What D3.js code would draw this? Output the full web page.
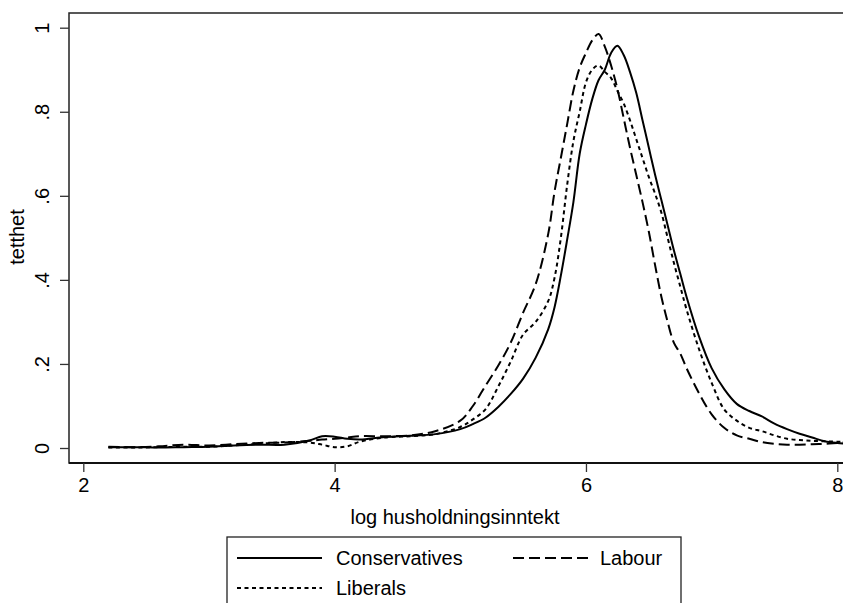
<!DOCTYPE html>
<html>
<head>
<meta charset="utf-8">
<script src="https://cdn.jsdelivr.net/npm/d3@7"></script>
<style>
  body { margin: 0; background: #fff; }
  svg { display: block; }
  text { font-family: "Liberation Sans", Arial, sans-serif; fill: #000; }
</style>
</head>
<body>
<svg id="chart"></svg>
<script>
const width = 843;
const height = 603;

// log household income grid
const xs = [2.2, 2.4, 2.6, 2.8, 3.0, 3.2, 3.4, 3.6, 3.8, 3.9, 4.0, 4.1, 4.2, 4.4, 4.6, 4.8, 5.0, 5.1, 5.2, 5.3, 5.4, 5.5, 5.6, 5.7, 5.75, 5.8, 5.85, 5.9, 5.95, 6.0, 6.05, 6.1, 6.15, 6.2, 6.25, 6.3, 6.35, 6.4, 6.45, 6.5, 6.55, 6.6, 6.65, 6.7, 6.75, 6.8, 6.9, 7.0, 7.1, 7.2, 7.3, 7.4, 7.5, 7.6, 7.7, 7.8, 7.9, 8.0, 8.1];

const conservatives = [.002, .002, .001, .002, .003, .006, .008, .008, .018, .028, .027, .022, .020, .026, .029, .033, .045, .057, .072, .097, .128, .165, .215, .283, .335, .41, .495, .585, .70, .77, .83, .875, .90, .94, .957, .935, .895, .845, .78, .715, .65, .59, .53, .47, .415, .36, .265, .19, .14, .105, .088, .075, .058, .045, .034, .025, .016, .012, .010];

const labour = [.003, .002, .004, .008, .006, .009, .012, .013, .017, .020, .022, .025, .028, .028, .030, .040, .065, .10, .148, .195, .25, .322, .39, .51, .61, .69, .77, .85, .905, .94, .97, .985, .955, .91, .855, .785, .715, .65, .585, .515, .435, .36, .30, .25, .225, .19, .13, .08, .048, .03, .022, .014, .010, .008, .008, .009, .010, .012, .014];

const liberals = [.001, .001, .002, .003, .003, .006, .010, .014, .013, .008, .002, .004, .015, .025, .028, .033, .050, .068, .092, .145, .205, .27, .30, .35, .405, .50, .625, .73, .80, .87, .90, .91, .895, .88, .85, .82, .78, .735, .69, .645, .605, .56, .50, .44, .385, .33, .235, .155, .092, .065, .048, .04, .03, .022, .019, .017, .016, .015, .014];

const xTicks = [2, 4, 6, 8];
const yTicks = [0, .2, .4, .6, .8, 1];
const yTickLabels = ["0", ".2", ".4", ".6", ".8", "1"];

const seriesNames = ["Conservatives", "Labour", "Liberals"];
const seriesValues = [conservatives, labour, liberals];
const dashes = [null, "11,5", "4,3.5"];

const svg = d3.select("#chart")
  .attr("width", width)
  .attr("height", height);

const plot = { left: 69, top: 13, right: 852, bottom: 463 };

const x = d3.scaleLinear().domain([2, 8]).range([83.3, 837.3]);
const y = d3.scaleLinear().domain([0, 1]).range([448, 27.7]);

// plot region frame
svg.append("rect")
  .attr("x", plot.left)
  .attr("y", plot.top)
  .attr("width", plot.right - plot.left)
  .attr("height", plot.bottom - plot.top)
  .attr("fill", "none")
  .attr("stroke", "#222")
  .attr("stroke-width", 1.5);

// y axis
const yAxis = svg.append("g")
  .attr("transform", `translate(${plot.left},0)`)
  .call(d3.axisLeft(y).tickValues(yTicks).tickSize(9).tickFormat((d, i) => yTickLabels[i]));
yAxis.select(".domain").remove();
yAxis.selectAll(".tick line").attr("stroke", "#333").attr("stroke-width", 1.3);
yAxis.selectAll(".tick text")
  .attr("font-size", 20)
  .attr("font-family", "'Liberation Sans', Arial, sans-serif")
  .attr("x", 0)
  .attr("y", 0)
  .attr("dy", 0)
  .attr("text-anchor", "middle")
  .attr("dominant-baseline", "central")
  .attr("transform", "translate(-27,0) rotate(-90)");

// x axis
const xAxis = svg.append("g")
  .attr("transform", `translate(0,${plot.bottom})`)
  .call(d3.axisBottom(x).tickValues(xTicks).tickSize(9).tickPadding(6).tickFormat(d3.format("d")));
xAxis.select(".domain")
  .attr("d", `M${plot.left},0H${plot.right}`)
  .attr("stroke", "#111")
  .attr("stroke-width", 2);
xAxis.selectAll(".tick line").attr("stroke", "#333").attr("stroke-width", 1.3);
xAxis.selectAll(".tick text")
  .attr("font-size", 20)
  .attr("font-family", "'Liberation Sans', Arial, sans-serif");

// axis titles
svg.append("text")
  .attr("transform", "translate(24,237) rotate(-90)")
  .attr("text-anchor", "middle")
  .attr("font-size", 20)
  .text("tetthet");

svg.append("text")
  .attr("x", 455)
  .attr("y", 524)
  .attr("text-anchor", "middle")
  .attr("font-size", 20)
  .text("log husholdningsinntekt");

// density curves
const line = d3.line()
  .x(d => x(d[0]))
  .y(d => y(d[1]))
  .curve(d3.curveCatmullRom.alpha(0.5));

seriesValues.forEach((vals, i) => {
  svg.append("path")
    .datum(xs.map((v, j) => [v, vals[j]]))
    .attr("fill", "none")
    .attr("stroke", "#000")
    .attr("stroke-width", 2)
    .attr("stroke-dasharray", dashes[i])
    .attr("stroke-linejoin", "round")
    .attr("d", line);
});

// legend
const legend = svg.append("g");
legend.append("rect")
  .attr("x", 227)
  .attr("y", 537)
  .attr("width", 454)
  .attr("height", 80)
  .attr("fill", "#fff")
  .attr("stroke", "#222")
  .attr("stroke-width", 1.3);

const legendPos = [
  { x: 237, y: 558, len: 85, gap: 14 },
  { x: 513, y: 558, len: 77, gap: 10 },
  { x: 237, y: 588, len: 85, gap: 14 }
];

seriesNames.forEach((name, i) => {
  const p = legendPos[i];
  legend.append("line")
    .attr("x1", p.x)
    .attr("x2", p.x + p.len)
    .attr("y1", p.y)
    .attr("y2", p.y)
    .attr("stroke", "#000")
    .attr("stroke-width", 2)
    .attr("stroke-dasharray", dashes[i]);
  legend.append("text")
    .attr("x", p.x + p.len + p.gap)
    .attr("y", p.y + 7)
    .attr("font-size", 20)
    .text(name);
});
</script>
</body>
</html>
